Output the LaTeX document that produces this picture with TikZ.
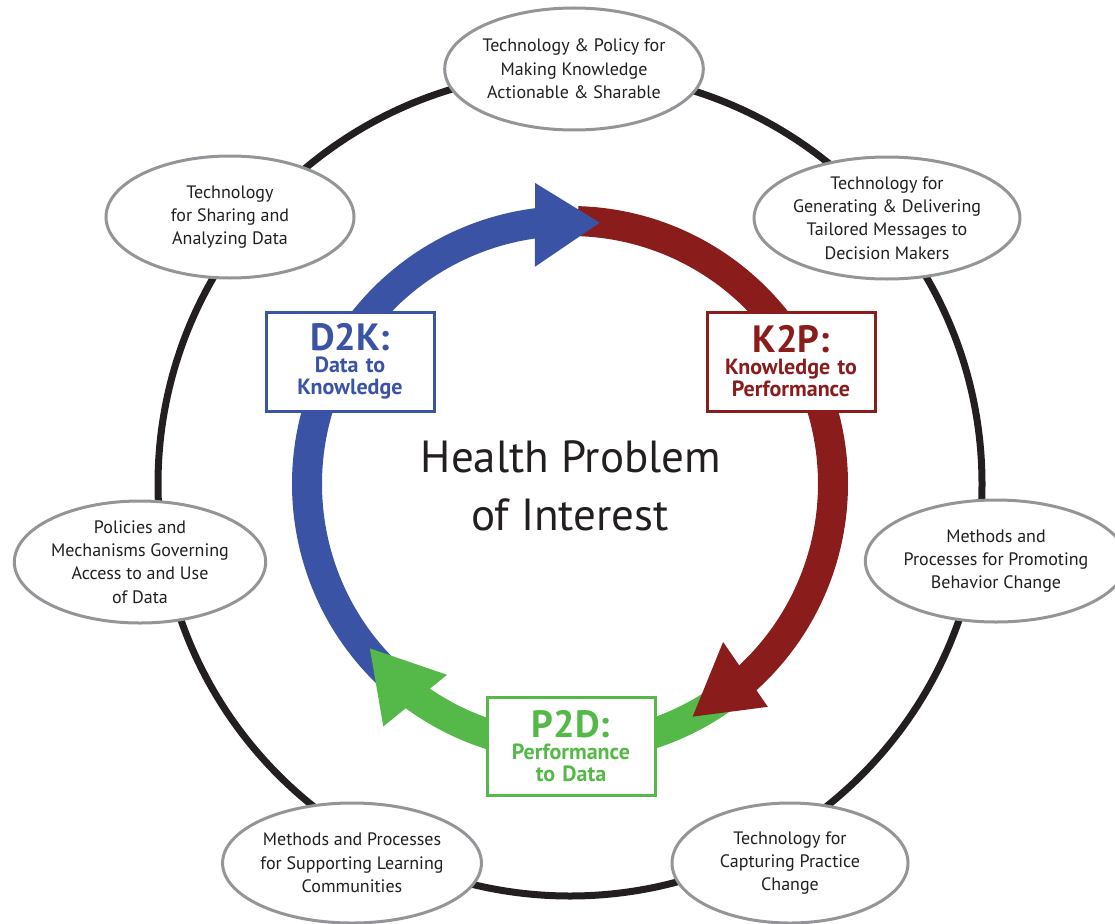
\documentclass[tikz,border=0pt]{standalone}
\usepackage{fontspec}
\setmainfont{PT Sans}
\usetikzlibrary{shapes.geometric,calc}
\definecolor{d2kblue}{HTML}{3A53A4}
\definecolor{k2pred}{HTML}{8B1C1C}
\definecolor{p2dgreen}{HTML}{54B948}
\definecolor{ringblack}{HTML}{231F20}
\definecolor{ellgray}{HTML}{939598}
\definecolor{inktext}{HTML}{231F20}
\newcommand{\boxtitle}[1]{{\fontsize{38}{22}\selectfont #1}}
\tikzset{
  ovalnode/.style={ellipse, draw=ellgray, line width=3pt, fill=white, inner sep=0pt,
    align=center, text=inktext, font=\fontsize{18}{23.3}\selectfont},
  ringline/.style={draw=ringblack, line width=7pt},
  band/.style={line width=30pt},
  labelbox/.style={rectangle, draw=#1, text=#1, line width=3pt, fill=white, inner sep=0pt,
    text width=168pt, align=center, minimum height=99pt,
    font=\bfseries\fontsize{22}{22}\selectfont},
  bigtext/.style={anchor=base, text=inktext, font=\fontsize{45}{58}\selectfont, inner sep=0pt},
}
\begin{document}
\begin{tikzpicture}[x=1pt,y=-1pt]
\useasboundingbox (0,0) rectangle (1115,923);
\coordinate (c) at (570,484);

% outer ring
\draw[ringline] (c) circle[radius=412];

% ellipses
\node[ovalnode, minimum width=242, minimum height=122] (e1) at (574,69)
  {Technology \& Policy for\\Making Knowledge\\Actionable \& Sharable};
\node[ovalnode, minimum width=248, minimum height=122] (e2) at (230,217)
  {Technology\\for Sharing and\\Analyzing Data};
\node[ovalnode, minimum width=236, minimum height=122] (e3) at (887,218)
  {Technology for\\Generating \& Delivering\\Tailored Messages to\\Decision Makers};
\node[ovalnode, minimum width=250, minimum height=122] (e4) at (140,562)
  {Policies and\\Mechanisms Governing\\Access to and Use\\of Data};
\node[ovalnode, minimum width=238, minimum height=122] (e5) at (996,561)
  {Methods and\\Processes for Promoting\\Behavior Change};
\node[ovalnode, minimum width=250, minimum height=120] (e6) at (352,863)
  {Methods and Processes\\for Supporting Learning\\Communities};
\node[ovalnode, minimum width=236, minimum height=120] (e7) at (790,863)
  {Technology for\\Capturing Practice\\Change};

% inner cycle bands
\draw[band, d2kblue] ($(c)+(131:263)$) arc[start angle=131, end angle=263.5, radius=263];
\draw[band, k2pred] ($(c)+(-88.3:263)$) arc[start angle=-88.3, end angle=48.5, radius=263];
\draw[band, p2dgreen] ($(c)+(55:263)$) arc[start angle=55, end angle=126.5, radius=263];

% arrow heads
\fill[d2kblue] ($(c)+(-99.2:220)$) -- ($(c)+(-96.6:303)$) -- ($(c)+(-83.5:263)$) -- cycle;
\fill[k2pred] ($(c)+(45.9:220)$) -- ($(c)+(48.4:298)$) -- ($(c)+(62.2:263)$) -- cycle;
\fill[p2dgreen] ($(c)+(122.8:227)$) -- ($(c)+(127.6:306)$) -- ($(c)+(140.6:259)$) -- cycle;

% label boxes
\node[labelbox=d2kblue] (d2k) at (350,361.5) {\boxtitle{D2K:}\\Data to\\Knowledge};
\node[labelbox=k2pred] (k2p) at (791,361.5) {\boxtitle{K2P:}\\Knowledge to\\Performance};
\node[labelbox=p2dgreen, minimum height=98pt] (p2d) at (571,746) {\boxtitle{P2D:}\\Performance\\to Data};

% centre text
\node[bigtext] (hp1) at (571,472) {Health Problem};
\node[bigtext] (hp2) at (570,530) {of Interest};
\end{tikzpicture}
\end{document}
